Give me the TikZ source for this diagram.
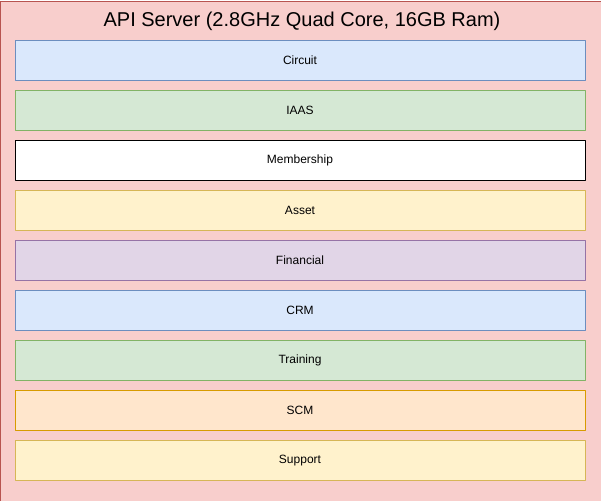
\documentclass[tikz,border=0pt]{standalone}
\usepackage{fontspec}
\setmainfont{Liberation Sans}
\usetikzlibrary{arrows,shapes}
\definecolor{redfill}{HTML}{F8CECC}\definecolor{redline}{HTML}{B85450}
\definecolor{bluefill}{HTML}{DAE8FC}\definecolor{blueline}{HTML}{6C8EBF}
\definecolor{greenfill}{HTML}{D5E8D4}\definecolor{greenline}{HTML}{82B366}
\definecolor{yellowfill}{HTML}{FFF2CC}\definecolor{yellowline}{HTML}{D6B656}
\definecolor{purplefill}{HTML}{E1D5E7}\definecolor{purpleline}{HTML}{9673A6}
\definecolor{orangefill}{HTML}{FFE6CC}\definecolor{orangeline}{HTML}{D79B00}
\begin{document}
\begin{tikzpicture}[line join=bevel,
  layer/.style={draw,minimum width=570bp,minimum height=40bp,inner sep=0pt,font=\fontsize{12bp}{14bp}\selectfont}]

\pgfsetlinewidth{0.75bp}
\useasboundingbox (0bp,0bp) rectangle (601bp,-501bp);

% Node: Server
\node [draw=redline,fill=redfill,minimum width=600bp,minimum height=500bp,inner sep=0pt,anchor=north west] (server) at (0.5bp,-0.5bp) {};
\node [font=\fontsize{20bp}{24bp}\selectfont] (title) at (302bp,-21bp) {API Server (2.8GHz Quad Core, 16GB Ram)};

% Layers
\node [layer,draw=blueline,fill=bluefill] (circuit) at (300bp,-60.5bp) {Circuit};
\node [layer,draw=greenline,fill=greenfill] (iaas) at (300bp,-110.5bp) {IAAS};
\node [layer,draw=black,fill=white] (membership) at (300bp,-160.5bp) {Membership};
\node [layer,draw=yellowline,fill=yellowfill] (asset) at (300bp,-210.5bp) {Asset};
\node [layer,draw=purpleline,fill=purplefill] (financial) at (300bp,-260.5bp) {Financial};
\node [layer,draw=blueline,fill=bluefill] (crm) at (300bp,-310.5bp) {CRM};
\node [layer,draw=greenline,fill=greenfill] (training) at (300bp,-360.5bp) {Training};
\node [layer,draw=orangeline,fill=orangefill] (scm) at (300bp,-410.5bp) {SCM};
\node [layer,draw=yellowline,fill=yellowfill] (support) at (300bp,-460.5bp) {Support};

\end{tikzpicture}
\end{document}
